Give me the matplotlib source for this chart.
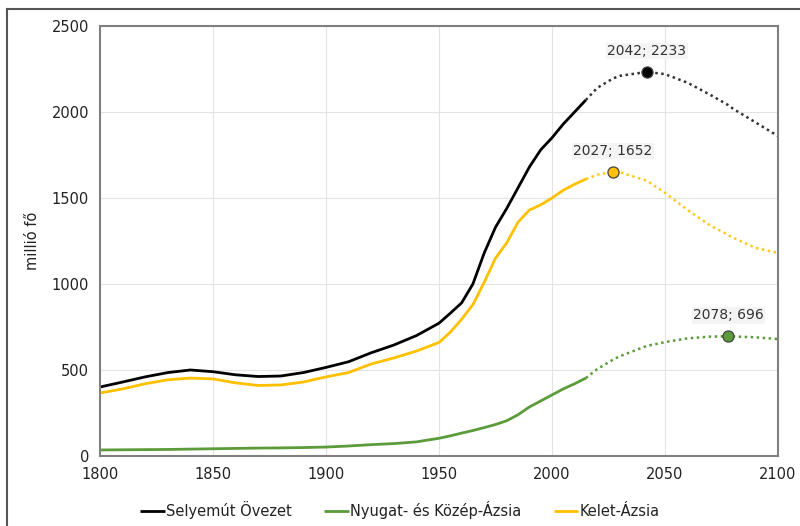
import matplotlib.pyplot as plt
from matplotlib.lines import Line2D

# historical (solid) values, million people
hist_years = [1800, 1810, 1820, 1830, 1840, 1850, 1860, 1870, 1880, 1890, 1900, 1910, 1920,
              1930, 1940, 1950, 1955, 1960, 1965, 1970, 1975, 1980, 1985, 1990, 1995, 2000,
              2005, 2010, 2015]
selyemut_hist = [401, 430, 460, 485, 500, 490, 472, 462, 465, 485, 515, 548, 600,
                 645, 700, 772, 830, 890, 1000, 1180, 1330, 1440, 1560, 1680, 1780, 1850,
                 1930, 2000, 2070]
nyugat_hist = [35, 36, 37, 38, 40, 42, 44, 46, 47, 49, 52, 58, 66,
               72, 82, 103, 117, 133, 148, 165, 183, 205, 240, 285, 320, 355,
               390, 420, 453]
kelet_hist = [366, 390, 420, 443, 453, 448, 425, 410, 413, 430, 460, 485, 535,
              570, 610, 660, 720, 795, 880, 1010, 1150, 1240, 1360, 1430, 1460, 1500,
              1545, 1580, 1610]

# projections (dotted)
proj_years = [2015, 2020, 2027, 2030, 2042, 2050, 2060, 2070, 2078, 2080, 2090, 2100]
selyemut_proj = [2070, 2140, 2195, 2210, 2233, 2220, 2170, 2100, 2040, 2020, 1940, 1860]
nyugat_proj = [453, 505, 560, 580, 640, 662, 684, 694, 696, 695, 690, 680]
kelet_proj = [1610, 1635, 1652, 1650, 1600, 1530, 1430, 1340, 1285, 1270, 1210, 1180]

peaks = [(2042, 2233, '#000000'), (2027, 1652, '#FFC000'), (2078, 696, '#5B9B3A')]

names = ['Selyemút Övezet', 'Nyugat- és Közép-Ázsia', 'Kelet-Ázsia']
colors = ['#000000', '#5B9B3A', '#FFC000']
dot_colors = ['#333333', '#5B9B3A', '#FFC81A']

fig = plt.figure(figsize=(8, 5.26), dpi=100)
ax = fig.add_axes([0.125, 0.1331, 0.8475, 0.8175])

for hist, proj, c, dc, n in zip([selyemut_hist, nyugat_hist, kelet_hist],
                                [selyemut_proj, nyugat_proj, kelet_proj], colors, dot_colors, names):
    ax.plot(hist_years, hist, color=c, lw=2, label=n, solid_capstyle='butt')
    ax.plot(proj_years, proj, color=dc, lw=1.8, linestyle=(0, (1, 1.4)))

for yr, val, c in peaks:
    ax.plot(yr, val, 'o', ms=8, mfc=c, mec='#444444', mew=0.9, zorder=5)
    ax.annotate(f'{yr}; {val}', (yr, val), xytext=(0, 10), textcoords='offset points',
                ha='center', va='bottom', fontsize=10, color='#333333',
                bbox=dict(boxstyle='square,pad=0.1', fc='#f4f4f4', ec='none'))

ax.set_xlim(1800, 2100)
ax.set_ylim(0, 2500)
ax.set_xticks(range(1800, 2101, 50))
ax.set_yticks(range(0, 2501, 500))
ax.grid(color='#e3e3e3', lw=0.8)
ax.set_axisbelow(True)
for s in ax.spines.values():
    s.set_color('#808080')
    s.set_linewidth(1.5)
ax.tick_params(length=0, labelsize=10.5, colors='#222222', pad=8)
ax.set_ylabel('millió fő', fontsize=10.5, color='#222222', labelpad=8)

fig.legend(loc='center', bbox_to_anchor=(0.5, 0.03), ncol=3, frameon=False,
           fontsize=10.5, handlelength=1.7, handletextpad=0.1, columnspacing=2.2,
           labelcolor='#222222')

# outer frame of the figure
fig.add_artist(Line2D([7/800, 7/800], [0, 1 - 9/526], color='#555555', lw=1.5))
fig.add_artist(Line2D([7/800, 1], [1 - 9/526, 1 - 9/526], color='#555555', lw=1.5))

fig.savefig('out.png', dpi=100)
